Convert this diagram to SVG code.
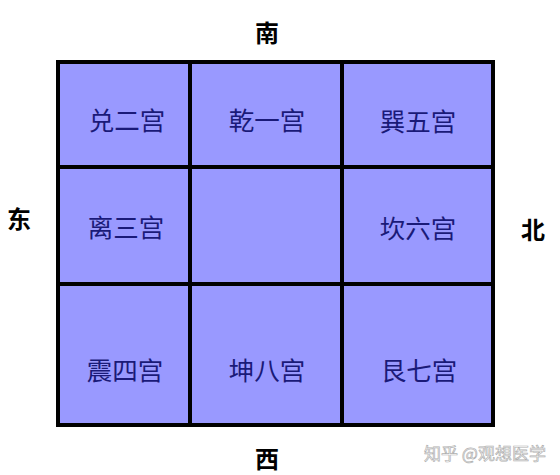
<svg xmlns="http://www.w3.org/2000/svg" width="560" height="475" viewBox="0 0 560 475">
<style>
.cell{fill:#9999ff;stroke:#000;stroke-width:4}
.lbl{font-family:"Noto Sans CJK SC",sans-serif;font-size:25.5px;fill:#1a1a78;text-anchor:middle;dominant-baseline:central}
.dir{font-family:"Noto Sans CJK SC",sans-serif;font-size:24px;font-weight:bold;fill:#000;text-anchor:middle;dominant-baseline:central}
.wm{font-family:"Noto Sans CJK SC",sans-serif;font-size:17px;fill:#fff;stroke:#b0b0b0;stroke-width:0.7;text-anchor:middle;dominant-baseline:central}
</style>
<rect width="560" height="475" fill="#fff"/>
<g id="dui"><rect class="cell" x="58" y="62" width="132" height="105"/><text class="lbl" x="127" y="118">兑二宫</text></g>
<g id="qian"><rect class="cell" x="190" y="62" width="152" height="105"/><text class="lbl" x="267" y="118">乾一宫</text></g>
<g id="xun"><rect class="cell" x="342" y="62" width="151" height="105"/><text class="lbl" x="418" y="119">巽五宫</text></g>
<g id="li"><rect class="cell" x="58" y="167" width="132" height="117"/><text class="lbl" x="126" y="225">离三宫</text></g>
<g id="center"><rect class="cell" x="190" y="167" width="152" height="117"/></g>
<g id="kan"><rect class="cell" x="342" y="167" width="151" height="117"/><text class="lbl" x="418" y="226">坎六宫</text></g>
<g id="zhen"><rect class="cell" x="58" y="284" width="132" height="141"/><text class="lbl" x="125" y="368">震四宫</text></g>
<g id="kun"><rect class="cell" x="190" y="284" width="152" height="141"/><text class="lbl" x="267" y="368">坤八宫</text></g>
<g id="gen"><rect class="cell" x="342" y="284" width="151" height="141"/><text class="lbl" x="419" y="368">艮七宫</text></g>
<g id="connectors"></g>
<g id="directions">
<text class="dir" x="267" y="31">南</text>
<text class="dir" x="19" y="217">东</text>
<text class="dir" x="533" y="228">北</text>
<text class="dir" x="267" y="457">西</text>
</g>
<text class="wm" x="485" y="452">知乎 @观想医学</text>
</svg>
